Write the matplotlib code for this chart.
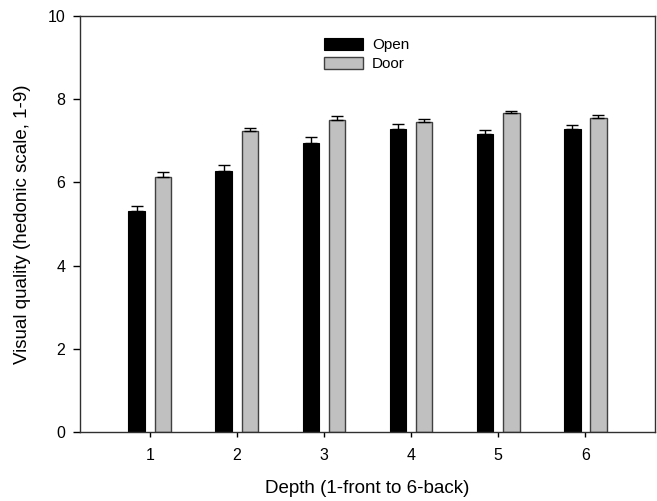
import numpy as np
import matplotlib.pyplot as plt

depth = [1, 2, 3, 4, 5, 6]
open_mean = [5.32, 6.28, 6.94, 7.28, 7.16, 7.28]
open_se = [0.12, 0.13, 0.14, 0.13, 0.11, 0.10]
door_mean = [6.14, 7.24, 7.50, 7.46, 7.68, 7.56]
door_se = [0.11, 0.07, 0.10, 0.07, 0.04, 0.05]

plt.rcParams['font.family'] = ['Liberation Sans', 'DejaVu Sans']

fig = plt.figure(figsize=(6.57, 5.01), dpi=100)
ax = fig.add_axes([0.1218, 0.1377, 0.8752, 0.8303])

x = np.array(depth, dtype=float)
w = 0.19
err_kw = dict(ecolor='black', elinewidth=1.0, capsize=4.3, capthick=1.0)
ax.bar(x - 0.15, open_mean, w, color='black', edgecolor='black', linewidth=0.8,
       yerr=[np.zeros(6), open_se], error_kw=err_kw, label='Open')
ax.bar(x + 0.15, door_mean, w, color='#c0c0c0', edgecolor='#404040', linewidth=1.0,
       yerr=[np.zeros(6), door_se], error_kw=err_kw, label='Door')

ax.set_xlim(0.2, 6.8)
ax.set_ylim(0, 10)
ax.set_xticks(depth)
ax.set_yticks([0, 2, 4, 6, 8, 10])
ax.tick_params(direction='out', width=1, labelsize=11.5, colors='black')
ax.tick_params(axis='y', length=5, pad=5.5)
ax.tick_params(axis='x', length=3.6, pad=8)
for s in ax.spines.values():
    s.set_linewidth(1.0)
    s.set_color('#303030')

ax.set_xlabel('Depth (1-front to 6-back)', fontsize=13.5, labelpad=12)
ax.set_ylabel('Visual quality (hedonic scale, 1-9)', fontsize=13.5, labelpad=12)

ax.legend(loc='upper left', bbox_to_anchor=(0.4, 0.98), frameon=False,
          fontsize=11, handlelength=2.6, handleheight=0.8,
          handletextpad=0.55, labelspacing=0.3)

fig.savefig('out.png', dpi=100)
